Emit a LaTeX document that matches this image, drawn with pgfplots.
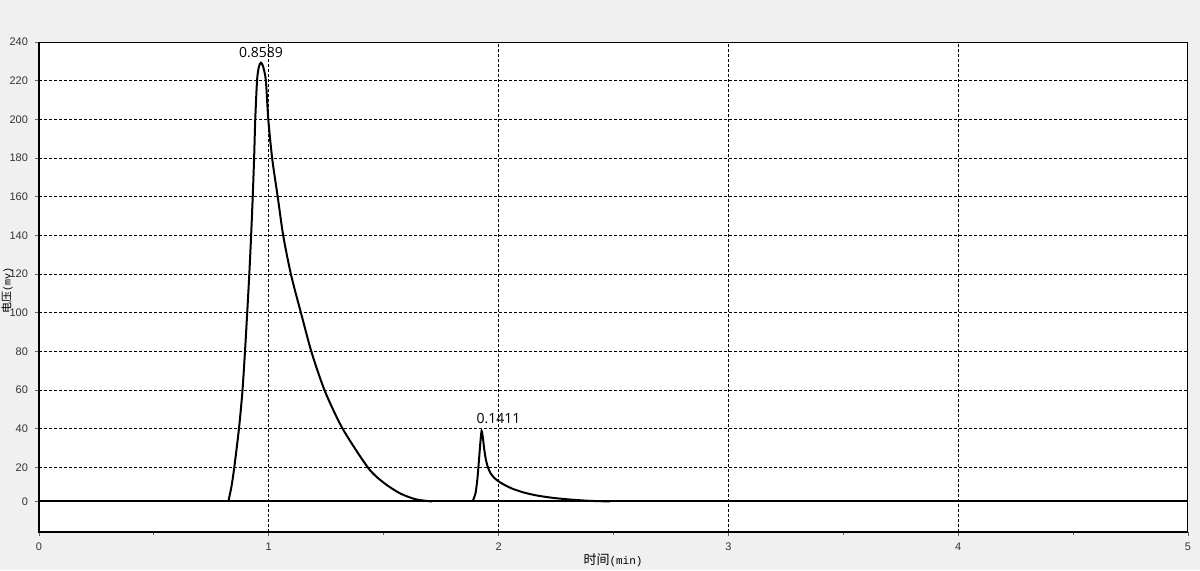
\documentclass[border=0pt]{standalone}
\usepackage{pgfplots}
\pgfplotsset{compat=1.18}
\usepackage{fontspec}
\setmainfont{Liberation Sans}
\newfontfamily\cjk{Noto Sans CJK SC}
\newfontfamily\lbl{Open Sans}
\newfontfamily\mono{Liberation Mono}
\definecolor{bgray}{RGB}{240,240,240}
\begin{document}
\begin{tikzpicture}
\useasboundingbox (0,0) rectangle (600pt,285pt);
\fill[bgray] (0,0) rectangle (600pt,285pt);
\begin{axis}[
  at={(19.5pt,19pt)}, anchor=south west,
  scale only axis, width=574.5pt, height=245pt,
  xmin=0, xmax=5, ymin=-15.8, ymax=237.6,
  axis background/.style={fill=white},
  xtick={0,1,2,3,4,5},
  minor xtick={0.5,1.5,2.5,3.5,4.5},
  ytick={0,17.6,37.6,57.6,77.6,97.6,117.6,137.6,157.6,177.6,197.6,217.6,237.6},
  yticklabels={0,20,40,60,80,100,120,140,160,180,200,220,240},
  xmajorgrids, ymajorgrids,
  major grid style={black, line width=0.5pt, dash pattern=on 1.5pt off 1pt},
  tick align=outside, tick pos=left,
  major tick length=2pt, minor tick length=1.5pt,
  tick style={black!60, line width=0.4pt},
  ticklabel style={font=\fontsize{5.5}{6}\selectfont, text=black!80},
  axis line style={black, line width=0.5pt},
  /pgf/number format/assume math mode=true,
]
\addplot[black, line width=1pt] coordinates {(0,0) (5,0)};
\addplot[black, line width=1pt, smooth, tension=0.45] coordinates {
(0.824,0) (0.838,8) (0.850,17.8) (0.870,37.5) (0.885,56.6) (0.896,76.8) (0.906,97.5)
(0.915,117.1) (0.923,137.3) (0.930,157.4) (0.936,177.1) (0.941,197.3) (0.949,217.9)
(0.957,224.8) (0.966,226.9) (0.975,225.0) (0.987,217.9) (0.998,197.3) (1.015,177.1)
(1.039,157.4) (1.063,137.3) (1.097,117.1) (1.140,97.5) (1.187,76.8) (1.245,56.8)
(1.322,37.5) (1.433,17.3) (1.501,9.6) (1.571,4.2) (1.640,1.1) (1.710,0)
};
\addplot[black, line width=1pt, smooth, tension=0.4] coordinates {
(1.887,0) (1.900,4.5) (1.908,12) (1.915,22) (1.921,31) (1.926,36.5) (1.931,33.5)
(1.937,27.5) (1.944,22.0) (1.953,17.8) (1.965,14.6) (1.980,12.3) (2.000,10.4)
(2.025,8.6) (2.060,6.6) (2.110,4.6) (2.170,3.0) (2.240,1.8) (2.320,0.9)
(2.400,0.3) (2.485,0)
};
\node[anchor=south, inner sep=0pt, font=\lbl\fontsize{7}{8}\selectfont] at (axis cs:0.966,229.5) {0.8589};
\node[anchor=south, inner sep=0pt, font=\lbl\fontsize{7}{8}\selectfont] at (axis cs:2.0,40) {0.1411};
\draw[black, line width=1pt] (rel axis cs:0,1) -- (rel axis cs:0,0) -- (rel axis cs:1,0);
\end{axis}
\node[font=\fontsize{6.5}{7}\selectfont] at (306.5pt,5pt) {\cjk 时间\mono\fontsize{5.5}{6}\selectfont(min)};
\node[rotate=90, font=\fontsize{5.5}{6}\selectfont] at (3.5pt,140pt) {\cjk 电压\mono\fontsize{5}{5}\selectfont(mv)};
\end{tikzpicture}
\end{document}
